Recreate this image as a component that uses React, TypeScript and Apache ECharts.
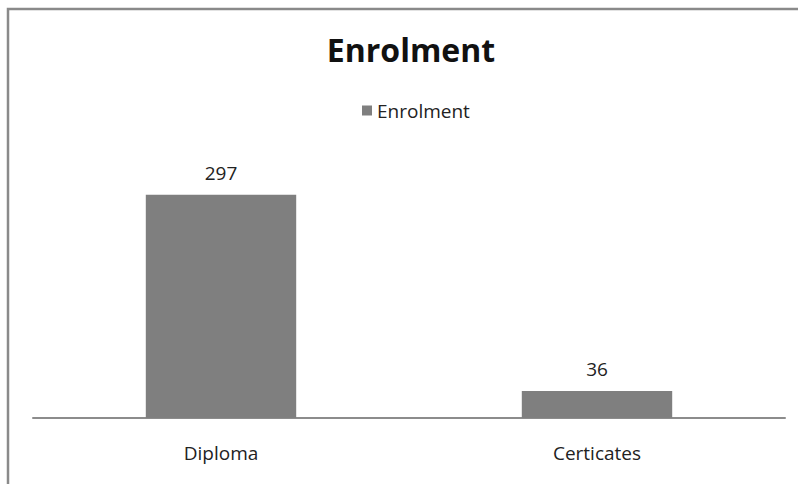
import React, { useEffect, useRef } from "react";
import * as echarts from "echarts";

const categories = ["Diploma", "Certicates"];
const seriesName = "Enrolment";
const values = [297, 36];
const titleText = "Enrolment";

export default function App() {
  const ref = useRef<HTMLDivElement>(null);
  useEffect(() => {
    if (!ref.current) return;
    const chart = echarts.init(ref.current, null, { renderer: "svg" });
    chart.setOption({
      animation: false,
      backgroundColor: "#ffffff",
      title: {
        text: titleText,
        left: 406,
        textAlign: "center",
        top: 28,
        textStyle: { fontFamily: "Open Sans", fontWeight: "bold", fontSize: 32, color: "#111" },
      },
      legend: {
        data: [seriesName],
        top: 96,
        left: 357,
        itemWidth: 10,
        itemHeight: 10,
        itemGap: 6,
        icon: "rect",
        textStyle: { fontFamily: "Open Sans", fontSize: 19, color: "#222" },
      },
      graphic: [
        {
          type: "rect",
          shape: { x: 8, y: 9, width: 1000, height: 1000 },
          style: { fill: "none", stroke: "#8a8a8a", lineWidth: 2.5 },
          silent: true,
        },
      ],
      grid: { left: 33, right: 13, top: 155, bottom: 66 },
      xAxis: {
        type: "category",
        data: categories,
        axisLine: { lineStyle: { color: "#8c8c8c", width: 2 } },
        axisTick: { show: false },
        axisLabel: { fontFamily: "Open Sans", fontSize: 19, color: "#222", margin: 25 },
      },
      yAxis: {
        type: "value",
        min: 0,
        max: 350,
        show: false,
        splitLine: { show: false },
      },
      series: [
        {
          name: seriesName,
          type: "bar",
          data: values,
          barWidth: "40%",
          itemStyle: { color: "#7f7f7f" },
          label: {
            show: true,
            position: "top",
            distance: 12,
            fontFamily: "Open Sans",
            fontSize: 19,
            color: "#222",
          },
        },
      ],
    });
    return () => chart.dispose();
  }, []);
  return (
    <div
      ref={ref}
      style={{ position: "fixed", left: 0, top: 0, width: 798, height: 484 }}
    />
  );
}
